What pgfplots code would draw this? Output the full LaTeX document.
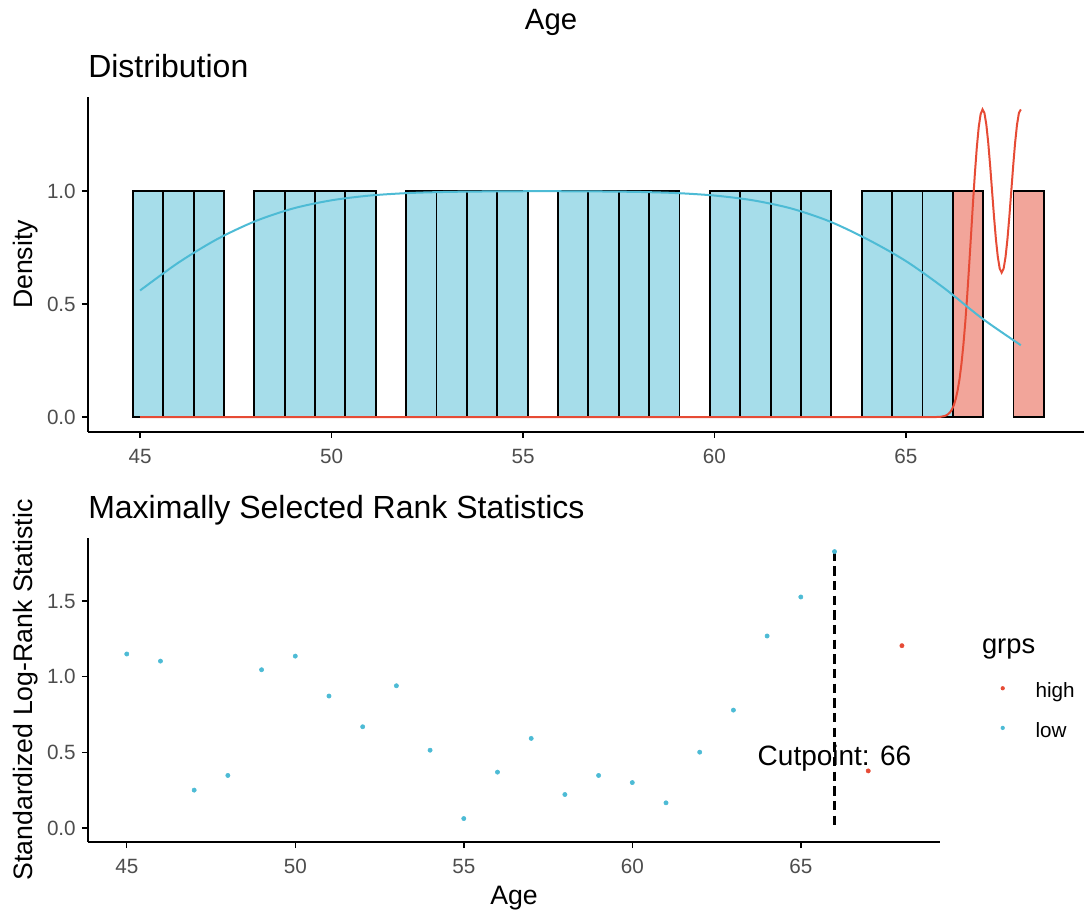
\documentclass[border=0pt]{standalone}
\usepackage{fontspec}
\setmainfont{Liberation Sans}
\usepackage{pgfplots}
\pgfplotsset{compat=1.18}

\definecolor{npgred}{HTML}{E64B35}
\definecolor{npgblue}{HTML}{4DBBD5}
\definecolor{fillblue}{HTML}{A6DDEA}
\definecolor{fillred}{HTML}{F2A59A}
\definecolor{tickgray}{HTML}{4D4D4D}

\pgfplotsset{
  ggclassic/.style={
    scale only axis,
    anchor=south west,
    axis x line*=bottom, axis y line*=left,
    axis line style={-, line width=1.1pt, black},
    tick style={black, line width=1.1pt},
    tick align=outside,
    major tick length=4.5pt,
    /pgf/number format/assume math mode=true,
    tick label style={font=\fontsize{15.5}{18}\selectfont, text=tickgray},
    xticklabel style={anchor=north, inner sep=0pt, yshift=-8pt},
    yticklabel style={anchor=east, inner sep=0pt, xshift=-4.5pt},
    yticklabel={\pgfmathprintnumber[fixed,fixed zerofill,precision=1]{\tick}},
    label style={font=\fontsize{20}{24}\selectfont},
    every axis title/.style={at={(0,1)}, anchor=base west, inner sep=0pt,
      font=\fontsize{24}{28}\selectfont},
  },
  bars/.style={ybar interval, draw=black, line width=1.4pt},
}

\begin{document}
\begin{tikzpicture}

% main title
\node[anchor=base, inner sep=0pt, font=\fontsize{22}{26}\selectfont] at (413.3pt,662.6pt) {Age};

% ---------- distribution ----------
\begin{axis}[ggclassic,
  at={(66pt,360.75pt)},
  width=747pt, height=251.25pt,
  xmin=43.64, xmax=69.65, ymin=-0.066, ymax=1.416,
  xtick={45,50,55,60,65}, ytick={0,0.5,1},
  ylabel={Density},
  ylabel style={at={(axis description cs:-0.0556,0.5)}, anchor=base, inner sep=0pt},
  title={Distribution},
  title style={yshift=14.8pt},
]
% histogram, low group
\addplot[bars, fill=fillblue] coordinates {(44.810,1)(45.603,1)(46.397,1)(47.190,1)};
\addplot[bars, fill=fillblue] coordinates {(47.983,1)(48.776,1)(49.569,1)(50.362,1)(51.155,1)};
\addplot[bars, fill=fillblue] coordinates {(51.948,1)(52.741,1)(53.534,1)(54.328,1)(55.121,1)};
\addplot[bars, fill=fillblue] coordinates {(55.914,1)(56.707,1)(57.500,1)(58.293,1)(59.086,1)};
\addplot[bars, fill=fillblue] coordinates {(59.879,1)(60.672,1)(61.466,1)(62.259,1)(63.052,1)};
\addplot[bars, fill=fillblue] coordinates {(63.845,1)(64.638,1)(65.431,1)(66.224,1)};
% histogram, high group
\addplot[bars, fill=fillred] coordinates {(66.224,1)(67.017,1)};
\addplot[bars, fill=fillred] coordinates {(67.810,1)(68.603,1)};

% density, high
\addplot[npgred, line width=1.5pt] coordinates {
  (45,0)(65.7,0)(65.8,0.0003)(65.9,0.0012)(66.0,0.0042)(66.05,0.0073)(66.1,0.0125)
  (66.15,0.0208)(66.2,0.0335)(66.25,0.0525)(66.3,0.0798)(66.35,0.1178)(66.4,0.169)
  (66.45,0.2358)(66.5,0.3196)(66.55,0.4204)(66.6,0.5376)(66.65,0.6684)(66.7,0.806)
  (66.75,0.9455)(66.8,1.0767)(66.85,1.1914)(66.9,1.282)(66.95,1.340)(67.0,1.361)
  (67.05,1.345)(67.1,1.293)(67.15,1.212)(67.2,1.110)(67.25,0.998)(67.3,0.886)
  (67.35,0.786)(67.4,0.707)(67.45,0.656)(67.5,0.639)(67.55,0.656)(67.6,0.707)
  (67.65,0.786)(67.7,0.886)(67.75,0.998)(67.8,1.110)(67.85,1.212)(67.9,1.293)
  (67.95,1.345)(68.0,1.361)
};
% density, low
\addplot[npgblue, line width=1.5pt, smooth] coordinates {
  (45,0.560)(46,0.683)(47,0.786)(48,0.866)(49,0.923)(50,0.959)(51,0.980)(52,0.991)
  (53,0.996)(54,0.998)(55,0.999)(56,0.999)(57,0.998)(58,0.996)(59,0.991)(60,0.980)
  (61,0.959)(62,0.923)(63,0.866)(64,0.786)(65,0.690)(66,0.570)(67,0.435)(68,0.318)
};
\end{axis}

% ---------- rank statistics ----------
\begin{axis}[ggclassic,
  at={(66pt,53.25pt)},
  width=639pt, height=228pt,
  xmin=43.85, xmax=69.13, ymin=-0.093, ymax=1.917,
  xtick={45,50,55,60,65}, ytick={0,0.5,1,1.5},
  ylabel={Standardized Log-Rank Statistic},
  ylabel style={at={(axis description cs:-0.0646,0.5)}, anchor=base, inner sep=0pt},
  xlabel={Age},
  xlabel style={at={(axis description cs:0.5,0)}, anchor=base, inner sep=0pt, yshift=-46.5pt},
  title={Maximally Selected Rank Statistics},
  title style={yshift=14.3pt},
  legend style={draw=none, fill=none, at={(axis description cs:1.0711,0.5243)},
    anchor=north west, inner sep=0pt, outer sep=0pt,
    font=\fontsize{15.5}{18}\selectfont, row sep=17pt, column sep=0pt,
    cells={anchor=base west}, nodes={inner sep=0pt}},
  legend image code/.code={%
    \fill[#1, draw=none] (0pt,7pt) circle (1.6pt);
    \path[draw=none, fill=none] (-1.6pt,0pt) rectangle (24.65pt,0.1pt);},
]
\addplot[npgblue, only marks, mark=*, mark size=1.6pt, forget plot] coordinates {
  (45,1.150)(46,1.103)(47,0.250)(48,0.347)(49,1.046)(50,1.136)(51,0.872)(52,0.669)
  (53,0.940)(54,0.514)(55,0.062)(56,0.369)(57,0.592)(58,0.221)(59,0.347)(60,0.300)
  (61,0.166)(62,0.501)(63,0.779)(64,1.269)(65,1.527)(66,1.827)
};
\addplot[npgred, only marks, mark=*, mark size=1.6pt, forget plot] coordinates {
  (67,0.377)(68,1.205)
};
\node[anchor=base, inner sep=0pt, font=\fontsize{21}{25}\selectfont] at (axis cs:66,0.415) {Cutpoint: 66};
\addplot[black, line width=2pt, dash pattern=on 7pt off 4pt, forget plot] coordinates {(66,1.827)(66,0)};

\addlegendimage{npgred}
\addlegendentry{high}
\addlegendimage{npgblue}
\addlegendentry{low}
\end{axis}

\node[anchor=base west, inner sep=0pt, font=\fontsize{20.5}{24}\selectfont] at (736.3pt,194.8pt) {grps};

\pgfresetboundingbox
\path[use as bounding box] (0,0) rectangle (813pt,684.75pt);
\end{tikzpicture}
\end{document}
